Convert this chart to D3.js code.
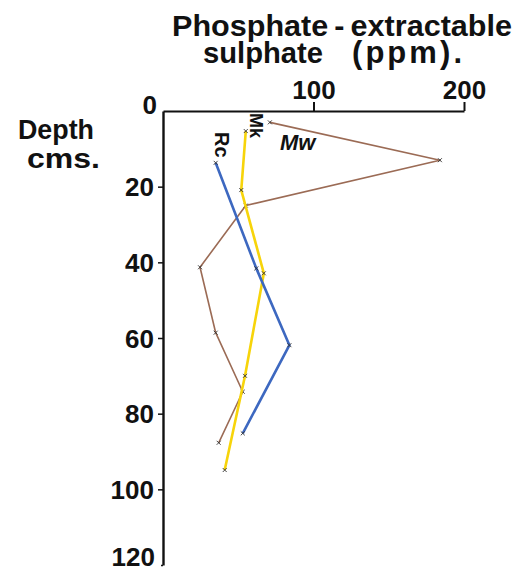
<!DOCTYPE html>
<html>
<head>
<meta charset="utf-8">
<script src="https://cdn.jsdelivr.net/npm/d3@7"></script>
<style>
  body { margin: 0; background: #fff; }
  text { font-family: "Liberation Sans", Arial, sans-serif; font-weight: bold; fill: #111; }
</style>
</head>
<body>
<div id="chart"></div>
<script>
// depth (cm) and extractable sulphate (ppm) per profile
const mwDepth = [3, 13, 25, 41.3, 58.6, 74.2, 87.7];
const mwPpm   = [71, 184, 55, 24.6, 35, 53, 37];
const mkDepth = [5.3, 20.9, 42.9, 70, 94.9];
const mkPpm   = [55, 52, 67, 54.5, 41];
const rcDepth = [13.7, 41.6, 61.9, 85.2];
const rcPpm   = [35, 62, 84, 53];
const xTicks = [100, 200];
const yTicks = [0, 20, 40, 60, 80, 100, 120];

const width = 521, height = 573;

const svg = d3.select("#chart")
    .append("svg")
    .attr("width", width)
    .attr("height", height);

let x = d3.scaleLinear([0, 200], [163, 464]);
let y = d3.scaleLinear([0, 120], [111, 565]);

const series = [
    {name: "Mw", color: "#9b6b55", w: 1.6, data: d3.zip(mwPpm, mwDepth)},
    {name: "Mk", color: "#f7d40a", w: 2.6, data: d3.zip(mkPpm, mkDepth)},
    {name: "Rc", color: "#3d68c0", w: 2.6, data: d3.zip(rcPpm, rcDepth)}
];

// axes
const xAxis = svg.append("g")
    .attr("transform", `translate(0,${y(0)})`)
    .call(d3.axisTop(x).tickValues(xTicks).tickSize(9).tickSizeOuter(0).tickPadding(3));
xAxis.select(".domain").attr("stroke", "#111").attr("stroke-width", 2.2);
xAxis.selectAll(".tick line").attr("stroke", "#111").attr("stroke-width", 2);
xAxis.selectAll(".tick text")
    .style("font-family", "'Liberation Sans', Arial, sans-serif")
    .style("font-size", "26px").style("font-weight", "bold").attr("fill", "#111");

const yAxis = svg.append("g")
    .attr("transform", `translate(${x(0)},0)`)
    .call(d3.axisLeft(y).tickValues(yTicks).tickSize(5).tickSizeOuter(0).tickPadding(3));
yAxis.select(".domain").attr("stroke", "#111").attr("stroke-width", 2.4);
yAxis.selectAll(".tick line").attr("stroke", "#111").attr("stroke-width", 1.5)
    .attr("display", d => d === 0 ? "none" : null)
    .attr("x2", d => d === 120 ? -2 : -5);
yAxis.selectAll(".tick text")
    .style("font-family", "'Liberation Sans', Arial, sans-serif")
    .style("font-size", "26px").style("font-weight", "bold").attr("fill", "#111")
    .attr("dy", d => d === 0 ? "0.1em" : d === 120 ? "0em" : "0.35em")
    .attr("x", d => d === 0 ? -6 : d === 120 ? -8 : -9);

// lines
const line = d3.line()
    .x(d => x(d[0]))
    .y(d => y(d[1]));

series.forEach(s => {
    svg.append("path")
        .datum(s.data)
        .attr("fill", "none")
        .attr("stroke", s.color)
        .attr("stroke-width", s.w)
        .attr("stroke-linejoin", "round")
        .attr("d", line);
    // small x markers
    svg.append("g").selectAll("path")
        .data(s.data)
        .join("path")
        .attr("d", d3.symbol(d3.symbolX, 12))
        .attr("transform", d => `translate(${x(d[0])},${y(d[1])})`)
        .attr("stroke", "#333")
        .attr("stroke-width", 0.9);
});

// series labels
svg.append("text").attr("transform", "translate(250,113) rotate(90)")
    .style("font-size", "18px").text("Mk");
svg.append("text").attr("transform", "translate(215,132) rotate(90)")
    .style("font-size", "20px").text("Rc");
svg.append("text").attr("x", 280).attr("y", 150)
    .style("font-size", "22px").style("font-style", "italic").text("Mw");

// titles
svg.append("text").attr("x", 172).attr("y", 36)
    .attr("textLength", 340).attr("lengthAdjust", "spacingAndGlyphs")
    .style("font-size", "30px").text("Phosphate\u2009-\u2009extractable");
svg.append("text").attr("x", 203).attr("y", 63)
    .attr("textLength", 120).attr("lengthAdjust", "spacingAndGlyphs")
    .style("font-size", "29px").text("sulphate");
svg.append("text").attr("x", 352).attr("y", 63)
    .attr("textLength", 110).attr("lengthAdjust", "spacing")
    .style("font-size", "31px").text("(ppm).");

svg.append("text").attr("x", 18).attr("y", 139)
    .attr("textLength", 76).attr("lengthAdjust", "spacingAndGlyphs")
    .style("font-size", "28px").text("Depth");
svg.append("text").attr("x", 27).attr("y", 168)
    .attr("textLength", 73).attr("lengthAdjust", "spacingAndGlyphs")
    .style("font-size", "28px").text("cms.");
</script>
</body>
</html>
